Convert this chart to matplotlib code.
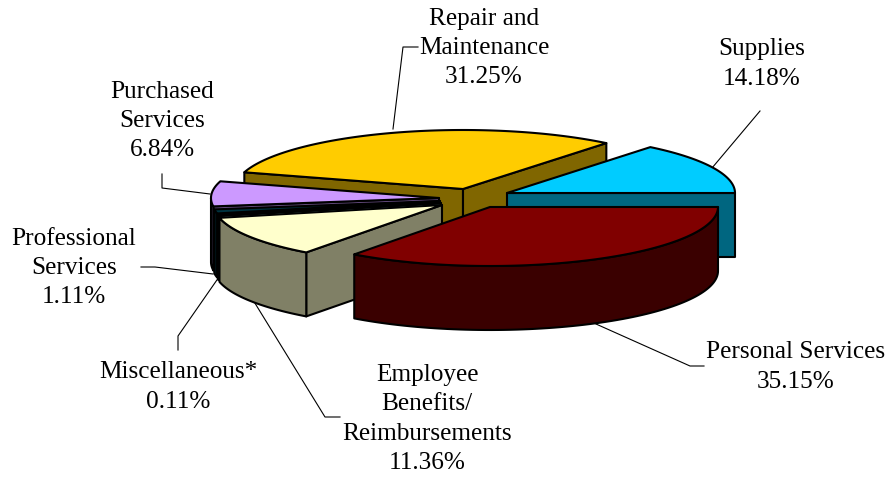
import numpy as np
import matplotlib
matplotlib.use('Agg')
from matplotlib import pyplot as plt
from matplotlib.patches import Polygon

# Data
labels = ['Personal Services', 'Employee\nBenefits/\nReimbursements', 'Miscellaneous*',
          'Professional\nServices', 'Purchased\nServices', 'Repair and\nMaintenance', 'Supplies']
values = [35.15, 11.36, 0.11, 1.11, 6.84, 31.25, 14.18]

# Colours
top_colors = ['#800000', '#FFFFCC', '#99CCCC', '#003340', '#CC99FF', '#FFCC00', '#00CCFF']
side_colors = ['#3A0000', '#808066', '#669999', '#001A20', '#664C80', '#806600', '#006680']

# Where each exploded slice has its tip, in pixels
apex_x = [490, 442, 441, 440, 439, 463, 507]
apex_y = [208, 206, 204, 202, 199, 190, 194]

# Layout of the pie
RX = 228
RY = 59
DEPTH = 64
START = 90  # clockwise from north

# Label centres and leader lines, in pixels
label_x = [796, 427, 178, 74, 162, 484, 762]
label_y = [367, 419, 387, 268, 121, 48, 64]
leader_lines = [
    [(596, 325), (690, 367), (704, 367)],
    [(253, 301), (325, 418), (340, 418)],
    [(219, 278), (178, 337), (178, 351)],
    [(213, 275), (155, 268), (141, 268)],
    [(210, 195), (162, 189), (162, 175)],
    [(393, 130), (403, 48), (418, 48)],
    [(712, 169), (760, 112)],
]

plt.rcParams['font.family'] = ['Liberation Serif', 'DejaVu Serif']


def ellipsePoint(ax_, ay_, compass):
    '''
    Gives the point on the rim of a slice
    :param ax_: x of the slice tip
    :param ay_: y of the slice tip
    :param compass: angle in degrees, clockwise from north
    :return: x, y arrays in pixels
    '''
    t = np.radians(compass)
    return ax_ + RX * np.sin(t), ay_ - RY * np.cos(t)


def drawPoly(ax, xs, ys, color):
    ax.add_patch(Polygon(np.column_stack([xs, ys]), closed=True, facecolor=color,
                         edgecolor='black', linewidth=1.5, joinstyle='round'))


def drawSlice(ax, x0, y0, a, b, top, side):
    '''
    Draws the cut faces, the outer wall and the top of one slice
    :param a: start angle (compass)
    :param b: end angle (compass)
    '''
    # cut faces, only when they face the viewer
    for angle, normal in ((a, a - 90), (b, b + 90)):
        if np.cos(np.radians(normal)) < 0:
            ex, ey = ellipsePoint(x0, y0, angle)
            drawPoly(ax, [x0, ex, ex, x0], [y0, ey, ey + DEPTH, y0 + DEPTH], side)

    # outer wall, the part of the rim between east and west going by south
    lo, hi = max(a, 90), min(b, 270)
    if hi > lo:
        t = np.linspace(lo, hi, 80)
        ex, ey = ellipsePoint(x0, y0, t)
        drawPoly(ax, np.r_[ex, ex[::-1]], np.r_[ey, ey[::-1] + DEPTH], side)

    # top
    t = np.linspace(a, b, 120)
    ex, ey = ellipsePoint(x0, y0, t)
    drawPoly(ax, np.r_[x0, ex], np.r_[y0, ey], top)


fig = plt.figure(figsize=(8.88, 4.81), dpi=100)
ax = fig.add_axes([0, 0, 1, 1])
ax.set_xlim(0, 888)
ax.set_ylim(481, 0)
ax.axis('off')

# Angles of the slices from the values
sweep = np.array(values) / sum(values) * 360
stops = START + np.r_[0, np.cumsum(sweep)]

# Leaders go under the pie
for line in leader_lines:
    xs, ys = zip(*line)
    ax.plot(xs, ys, color='black', linewidth=0.8, zorder=0)

# Back slices first, the tip height gives the order
for i in np.argsort(apex_y):
    drawSlice(ax, apex_x[i], apex_y[i], stops[i], stops[i + 1], top_colors[i], side_colors[i])

for i in range(len(labels)):
    ax.text(label_x[i], label_y[i], '%s\n%.2f%%' % (labels[i], values[i]), ha='center', va='center',
            fontsize=18.2, linespacing=1.42, color='black')

fig.savefig('out.png', dpi=100)
